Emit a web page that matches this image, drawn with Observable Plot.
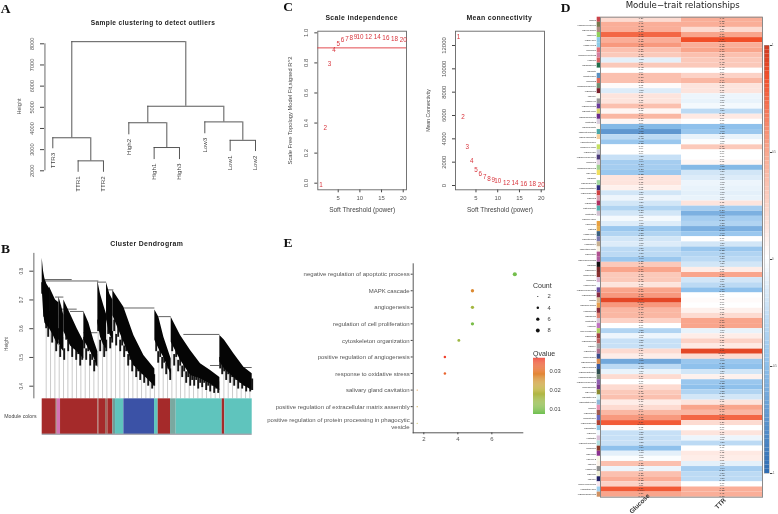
<!DOCTYPE html>
<html>
<head>
<meta charset="utf-8">
<script src="https://cdn.jsdelivr.net/npm/d3@7"></script>
<script src="https://cdn.jsdelivr.net/npm/@observablehq/plot@0.6"></script>
<style>
html,body{margin:0;padding:0;background:#fff;}
#page{position:relative;width:778px;height:514px;overflow:hidden;background:#fff;font-family:"Liberation Sans",Arial,sans-serif;filter:blur(.28px);}
#page svg{position:absolute;overflow:visible;}
.t{position:absolute;white-space:nowrap;transform:translate(-50%,-50%);line-height:1;}
.title{font-weight:bold;font-size:6.9px;letter-spacing:.35px;color:#222;}
.letter{font-family:"Liberation Serif",serif;font-weight:bold;font-size:13.5px;color:#111;}
.leg{transform:translate(0,-50%);font-size:7px;color:#333;}
</style>
</head>
<body>
<div id="page"></div>
<script>
// ---------- Panel A: sample clustering ----------
const sampleNames = ["TTR3","TTR1","TTR2","High2","High1","High3","Low3","Low1","Low2"];
const sampleEnds  = [3040,1930,1930,3700,2530,2530,3750,2910,2910];
const sampleMergeLeft  = [2,5,8,1,4,7,4.75,1.75];
const sampleMergeRight = [3,6,9,2.5,5.5,8.5,7.75,6.25];
const sampleMergeHeight= [2470,3100,3440,3560,4270,4310,5050,8100];
const sampleLeftFrom   = [1930,2530,2910,3040,3700,3750,4270,3560];
const sampleRightFrom  = [1930,2530,2910,2470,3100,3440,4310,5050];
const sampleTicks = [2000,3000,4000,5000,6000,7000,8000];

// ---------- Panel B: gene dendrogram ----------
const wedgeX = [
 [0,4,8,14,22],[22,32,40,50],[50,58,65],[65,85,105,125],[125,140,155,167],
 [167,175,185,193],[193,203,212],[212,245,275,305,338],[338,350,365,387],
 [387,415,445,475,505,533],[533,547,575,605,630]];
const wedgeTop = [
 [.845,.80,.775,.755,.74],[.745,.72,.70,.69],[.71,.68,.646],[.70,.65,.60,.555],[.66,.62,.56,.52],
 [.765,.72,.68,.65],[.76,.72,.70],[.733,.675,.576,.507,.46],[.665,.64,.57,.495],
 [.64,.576,.524,.478,.455,.43],[.576,.56,.513,.466,.443]];
const wedgeBottom = [
 [.74,.66,.62,.61,.60],[.60,.58,.56,.54],[.55,.53,.52],[.59,.54,.52,.495],[.56,.53,.50,.465],
 [.62,.57,.54,.53],[.63,.58,.56],[.645,.553,.472,.437,.40],[.56,.53,.50,.44],
 [.553,.49,.437,.426,.408,.385],[.484,.46,.43,.402,.385]];
const fringeBottom = [.72,.64,.60,.57,.62,.55,.58,.52,.56,.50,.53,.49,.56,.52,.55,.50,.53,.49,.51,.47,.49,.53,.49,.52,.47,.49,.45,.47,.59,.52,.56,.50,.52,.58,.53,.55,.59,.54,.57,.52,.54,.50,.52,.47,.49,.45,.47,.43,.45,.42,.44,.41,.43,.40,.42,.39,.40,.52,.48,.50,.46,.48,.44,.46,.42,.52,.47,.50,.45,.47,.43,.45,.41,.43,.40,.42,.40,.42,.39,.41,.395,.41,.385,.40,.38,.40,.375,.39,.375,.46,.44,.45,.42,.44,.41,.43,.40,.42,.39,.41,.39,.40,.38,.395,.38,.385];
const branchX1 = [10,10,167,193,40,55,85,125,245,350,425,505,605];
const branchX2 = [170,90,193,215,65,105,125,167,338,387,533,533,630];
const branchY  = [.766,.771,.762,.735,.71,.668,.66,.586,.672,.642,.58,.472,.465];
const stemX   = [12,25,38,51,64,77,90,103,116,129,142,155,168,181,194,207,220,233,246,259,272,285,298,311,324,337,350,363,376,389,402,415,428,441,454,467,480,493,506,519,532,545,558,571,584,597,610,623];
const stemTop = [.62,.60,.57,.55,.52,.56,.54,.52,.50,.55,.52,.50,.62,.55,.62,.57,.62,.57,.55,.51,.47,.45,.44,.43,.42,.40,.53,.50,.47,.55,.52,.49,.46,.44,.43,.42,.42,.41,.41,.40,.39,.46,.45,.43,.42,.41,.40,.39];
const moduleStart = [0,40,45,55,167,170,190,197,212,220,245,337,348,385,402,540,548];
const moduleEnd   = [40,45,55,167,170,190,197,212,220,245,337,348,385,402,540,548,630];
const moduleColor = ["#a52a2a","#a06a60","#d573b5","#a52a2a","#a06a60","#a52a2a","#a06a60","#a52a2a","#6f9e98","#5fc4bd","#3b52a6","#5fc4bd","#a52a2a","#7aa8a0","#5fc4bd","#a52a2a","#5fc4bd"];

// ---------- Panel C: soft threshold ----------
const powers = [1,2,3,4,5,6,7,8,9,10,12,14,16,18,20];
const scaleFit = [-.01,.37,.796,.887,.929,.953,.962,.969,.973,.973,.971,.971,.965,.958,.953];
const meanConn = [12714,5914,3314,2086,1371,1000,771,571,457,371,257,200,170,114,86];

// ---------- Panel D: module-trait heatmap ----------
const moduleNames = ["MEred","MEdarkolivegreen","MErosybrown","MEgreen","MEskyblue","MEskyblue3","MEcoral1","MEpalevioletred3","MEcoral","MEdarkgreen","MEwhite","MEsteelblue","MEcoral2","MEdarkseagreen4","MEdarkred","MEivory","MEgrey60","MEdarkorchid","MElightyellow","MEdarkmagenta","MEthistle2","MEfloralwhite","MEdarkturquoise","MEnavajowhite2","MEwhitesmoke","MEgreenyellow","MElavender","MEmediumpurple4","MEplum3","MEdarkseagreen3","MEyellow","MEsnow","MEpalegreen3","MEmidnightblue","MEorangered3","MEpink3","MEmaroon","MEturquoise","MEthistle1","MEhoneydew","MEorange","MEtan3","MEskyblue4","MEslateblue1","MEbisque4","MEantiquewhite","MEorchid4","MEmediumorchid","MEblack","MEbrown4","MEfirebrick4","MEplum1","MEaliceblue","MEmediumpurple3","MEindianred4","MEtan","MEsandybrown","MEdarkred2","MEsalmon","MEthistle3","MEplum","MEyellowgreen","MEbrown2","MEindianred3","MEgrey","MEhotpink4","MEroyalblue","MEdarkorange","MEroyalblue3","MEdarkslategrey","MEdarkseagreen","MEmediumpurple2","MEmagenta4","MEyellow4","MElightcyan1","MElightsteelblue","MEpink","MEsalmon4","MEslateblue","MEorangered4","MElightblue","MEazure","MEthistle","MEpaleturquoise","MEbrown","MEpurple","MEivory2","MElinen","MEgrey50","MEbeige","MEnavy","MElavenderblush","MElightskyblue","MEdarkgoldenrod"];
const moduleStrip = ["#c9444a","#75784c","#b08a80","#8fd05a","#8ecae6","#8ecae6","#e0707a","#d47fa0","#d95f5f","#1f6e4a","#ffffff","#5a8fc0","#e06a5a","#6f8f70","#7a1f2a","#fbfbf0","#999999","#6a3a9a","#dcd66a","#6a2a8a","#d8ccdc","#fdf8f0","#4aa8a8","#f5cfa0","#ffffff","#c5e060","#c8c8d8","#4a3a7a","#e0d0e0","#a0d090","#f0e060","#ffffff","#a0d8a0","#303080","#d04040","#d9a0b0","#b03060","#50b0b0","#d0c0d0","#fbfffb","#e8a040","#e8b050","#3a6080","#7a7ab0","#c8b090","#f8f0e0","#b05090","#b060a0","#111111","#7a2a2a","#883030","#d8b0d0","#f4f8ff","#6a50a0","#8a2a40","#d8b890","#e8a050","#8a2a3a","#e08070","#d8c8d8","#c070c0","#b0d060","#a04040","#c06060","#a0a0a0","#b07090","#3a4a8a","#e09050","#3a5aa0","#2f4f4f","#7a8a7a","#9060b0","#7a3a8a","#8a8a30","#d8f0f0","#90b8d8","#e890b0","#a05a50","#6a6ac0","#b04030","#90c8e8","#f0f8ff","#d8c0d8","#b0e0e0","#8a3a2a","#8a3090","#f8f8e8","#faf0e6","#909090","#f0f0d8","#222266","#f8e8f0","#a0d0f0","#d09060"];
const glucose = [.2,.45,.45,.75,.45,.55,.35,.3,-.12,.3,0,.35,.35,.02,-.15,.15,.15,.35,.05,.4,.05,-.55,-.75,-.3,-.45,0,0,-.25,-.4,-.4,-.45,.15,.15,.08,-.2,-.08,-.2,-.35,-.2,-.05,-.15,-.45,-.35,-.2,-.15,-.3,-.3,-.45,.3,.5,.3,.3,.15,.5,.55,.9,.55,.4,.4,.25,0,-.35,-.08,-.25,-.25,.2,.1,-.65,-.3,-.1,.2,0,.2,.3,.35,.1,.2,.4,.55,.8,.02,-.25,-.25,-.25,-.5,-.12,-.02,.35,-.08,.35,.45,.25,.8,.5];
const ttr = [.45,.45,.2,.5,.85,.45,.5,.35,.3,.3,0,.25,.4,.15,.15,-.08,-.1,-.05,-.3,.12,0,-.5,-.45,-.1,-.02,.3,0,0,.05,-.55,-.2,-.15,-.08,-.1,-.12,-.1,.15,-.4,-.6,-.4,-.35,-.6,-.45,0,-.2,-.45,-.35,-.3,-.2,.1,.5,-.2,-.3,-.5,0,.02,0,.08,.2,.5,.5,-.1,.1,.25,.12,.9,.2,-.45,-.5,-.2,.08,-.45,-.5,-.35,-.2,.15,.5,.4,.75,.2,0,.15,-.08,-.3,0,.12,.1,-.12,-.4,-.3,-.3,0,.45,.45];
const traits = ["Glucose","TTR"];
const rLookup = [.05,.1,.15,.2,.25,.3,.35,.4,.45,.5,.55,.6,.65,.75,.8,.85,.9,1];
const pLookup = [.9,.8,.7,.6,.5,.43,.36,.29,.22,.17,.13,.09,.06,.02,.009,.004,.001,.001];
const heatBreaks = [-1,-.5,0,.5,.85,1];
const heatColors = ["#2f6db3","#8fc1ec","#ffffff","#f9a58c","#f14e28","#c93a22"];

// ---------- Panel E: enrichment dots ----------
const terms = ["negative regulation of apoptotic process","MAPK cascade","angiogenesis","regulation of cell proliferation","cytoskeleton organization","positive regulation of angiogenesis","response to oxidative stress","salivary gland cavitation","positive regulation of extracellular matrix assembly","positive regulation of protein processing in phagocytic\nvesicle"];
const termX = [7.35,4.86,4.86,4.86,4.06,3.24,3.24,1.61,1.61,1.61];
const termCount = [9,6,6,6,5,4,4,2,2,2];
const termQ = [.0085,.027,.016,.0095,.015,.036,.032,.027,.023,.02];
const countLegend = [2,4,6,8];
const qBreaks = [.0074,.02,.029,.0368];
const qColors = ["#6cbf4c","#bdb23b","#e57f30","#f0392b"];

// ---------- helpers ----------
const page = document.getElementById("page");
const sans = '"Liberation Sans",Arial,sans-serif';
function put(chart,left,top){chart.style.left=left+"px";chart.style.top=top+"px";page.appendChild(chart);}
function label(text,x,y,cls,extra){const d=document.createElement("div");d.className="t "+cls;d.textContent=text;d.style.left=x+"px";d.style.top=y+"px";if(extra)Object.assign(d.style,extra);page.appendChild(d);}
const baseStyle = (size)=>({background:"transparent",fontFamily:sans,fontSize:size+"px",overflow:"visible",color:"#444"});
const rAxis = {tickRotate:-90,tickSize:4,tickPadding:6.5,labelAnchor:"center",labelArrow:"none"};

// ---------- Panel A ----------
{
 const merges = sampleMergeHeight.map((h,i)=>({a:sampleMergeLeft[i],b:sampleMergeRight[i],h,af:sampleLeftFrom[i],bf:sampleRightFrom[i]}));
 const leaves = sampleNames.map((name,i)=>({i:i+1,name,end:sampleEnds[i]}));
 put(Plot.plot({width:280,height:170,marginLeft:44,marginRight:10,marginTop:9,marginBottom:27,
  style:baseStyle(5.6),
  x:{domain:[1,9],range:[52.3,255],axis:null},
  y:{domain:[2000,8000],range:[140.3,13.3]},
  marks:[
   Plot.axisY({...rAxis,ticks:sampleTicks,label:"Height",labelOffset:27,tickFormat:d=>String(d),fill:"#555"}),
   Plot.ruleX([0],{x:()=>0.69,y1:2000,y2:8000,stroke:"#444",strokeWidth:.8}),
   Plot.ruleY(merges,{x1:"a",x2:"b",y:"h",stroke:"#444",strokeWidth:.9}),
   Plot.ruleX(merges,{x:"a",y1:"af",y2:"h",stroke:"#444",strokeWidth:.9}),
   Plot.ruleX(merges,{x:"b",y1:"bf",y2:"h",stroke:"#444",strokeWidth:.9}),
   Plot.text(leaves,{x:"i",y:"end",text:"name",rotate:-90,textAnchor:"end",dy:4,fill:"#444",fontSize:6.2})
  ]}),0,30);
 label("Sample clustering to detect outliers",153,23,"title",{fontSize:"6.6px"});
 label("A",5.5,9,"letter");
}

// ---------- Panel B ----------
{
 const wedges = wedgeX.flatMap((xs,w)=>xs.map((x,i)=>({w,x,top:wedgeTop[w][i],bot:wedgeBottom[w][i]})));
 const branches = branchY.map((y,i)=>({x1:branchX1[i],x2:branchX2[i],y}));
 const stems = stemX.map((x,i)=>({x,top:stemTop[i]}));
 const modules = moduleColor.map((fill,i)=>({x1:moduleStart[i],x2:moduleEnd[i],fill}));
 const fringe = fringeBottom.map((b,i)=>({x:i*6,b}));
 put(Plot.plot({width:270,height:190,marginLeft:33.3,marginRight:18,marginTop:3,marginBottom:6,
  style:baseStyle(4.8),
  x:{domain:[0,630],range:[41.7,251.7],axis:null},
  y:{domain:[.86,.233],range:[3.45,183.7]},
  marks:[
   Plot.axisY({...rAxis,ticks:[.4,.5,.6,.7,.8],label:"Height",labelOffset:29,tickFormat:d=>d.toFixed(1),fill:"#555"}),
   Plot.ruleX([-25],{y1:.356,y2:.862,stroke:"#444",strokeWidth:.8}),
   Plot.ruleX(stems,{x:"x",y1:.356,y2:"top",stroke:"#aaa",strokeWidth:.6}),
   Plot.ruleY(branches,{x1:"x1",x2:"x2",y:"y",stroke:"#222",strokeWidth:.7}),
   Plot.ruleX(fringe,{x:"x",y1:"b",y2:d=>d.b+.04,stroke:"#151515",strokeWidth:1.9}),
   Plot.areaY(wedges,{x:"x",y1:"bot",y2:"top",z:"w",fill:"#050505"}),
   Plot.rect(modules,{x1:"x1",x2:"x2",y1:.356,y2:.233,fill:"fill"}),
   Plot.ruleY([.233],{x1:0,x2:630,stroke:"#334",strokeWidth:.6}),
   Plot.text(["Module colors"],{x:-17,y:.295,text:d=>d,textAnchor:"end",fontSize:5.2,fill:"#444"})
  ]}),0,250);
 label("Cluster Dendrogram",146.7,244.3,"title");
 label("B",5.5,249,"letter");
}

// ---------- Panel C ----------
function softPlot(values,yDomain,yTicks,yLabel,yLabelSize,left,ml,mr,extra,fmt){
 const pts = powers.map((p,i)=>({p,v:values[i]}));
 put(Plot.plot({width:135,height:200,marginLeft:ml,marginRight:mr,marginTop:10.7,marginBottom:30.7,
  style:baseStyle(5.9),
  x:{domain:[.29,20.76]},y:{domain:yDomain},
  marks:[
   Plot.axisX({ticks:[5,10,15,20],tickSize:3,tickPadding:3,label:null,fill:"#555"}),
   Plot.axisY({...rAxis,tickSize:3,ticks:yTicks,label:null,tickFormat:fmt,fill:"#555"}),
   Plot.text([yLabel],{text:d=>d,frameAnchor:"left",textAnchor:"middle",rotate:-90,dx:-27.2,fontSize:yLabelSize,fill:"#444"}),
   Plot.text(["Soft Threshold (power)"],{text:d=>d,frameAnchor:"bottom",dy:21.7,fontSize:6.5,fill:"#444"}),
   Plot.frame({stroke:"#666",strokeWidth:.9}),
   ...extra,
   Plot.text(pts,{x:"p",y:"v",text:d=>String(d.p),fill:"#d8343c",fontSize:6.3})
  ]}),left,20);
}
softPlot(scaleFit,[-.044,1.011],[0,.2,.4,.6,.8,1],"Scale Free Topology Model Fit,signed R^2",5.75,275,42.3,4,[Plot.ruleY([.9],{stroke:"#e0353b",strokeWidth:.9})],d=>d.toFixed(1));
softPlot(meanConn,[-368,13225],[0,2000,4000,6000,8000,10000,12000],"Mean Connectivity",5.2,415,40,6,[],d=>String(d));
label("Scale independence",361.7,18.3,"title");
label("Mean connectivity",499.3,18.3,"title");
label("C",288,7,"letter");

// ---------- Panel D ----------
{
 const rowIds = moduleNames;
 const pOf = r=>pLookup[Math.min(d3.bisectLeft(rLookup,Math.abs(r)),rLookup.length-1)];
 const cells = moduleNames.flatMap((m,i)=>[{m,t:traits[0],r:glucose[i]},{m,t:traits[1],r:ttr[i]}]);
 const heatScale = {type:"linear",domain:heatBreaks,range:heatColors,interpolate:"rgb"};
 put(Plot.plot({width:50,height:514,marginLeft:46.7,marginRight:0,marginTop:16.7,marginBottom:17.3,
  style:baseStyle(2.3),
  x:{domain:["s"],axis:null,padding:0,round:false},
  y:{domain:rowIds,padding:0,round:false},
  marks:[
   Plot.axisY({tickSize:0,tickPadding:1.2,label:null,fill:"#333"}),
   Plot.cell(moduleNames.map((m,i)=>({m,fill:moduleStrip[i]})),{x:()=>"s",y:"m",fill:"fill"})
  ]}),550,0);
 put(Plot.plot({width:162,height:514,marginLeft:0,marginRight:0,marginTop:16.7,marginBottom:17.3,
  style:baseStyle(2.3),
  x:{domain:traits,padding:0,axis:null,round:false},
  y:{domain:rowIds,padding:0,axis:null,round:false},
  color:heatScale,
  marks:[
   Plot.cell(cells,{x:"t",y:"m",fill:"r"}),
   Plot.text(cells,{x:"t",y:"m",text:d=>d.r.toFixed(2),dy:-1.2,fontSize:2.3,fill:"#333"}),
   Plot.text(cells,{x:"t",y:"m",text:d=>"("+pOf(d.r)+")",dy:1.2,fontSize:2.3,fill:"#333"}),
   Plot.frame({stroke:"#8a8a8a",strokeWidth:1}),
   Plot.text(traits,{x:d=>d,text:d=>d,frameAnchor:"bottom",rotate:-45,dy:8,fontSize:6.4,fontWeight:"bold",fill:"#333"})
  ]}),600,0);
 const barSteps = d3.range(-1,1,.02);
 put(Plot.plot({width:14,height:440,marginLeft:1,marginRight:8,marginTop:5,marginBottom:7,
  style:baseStyle(2.6),
  x:{domain:[0,1],axis:null},
  y:{domain:[-1,1]},
  color:heatScale,
  marks:[
   Plot.rect(barSteps,{x1:0,x2:1,y1:d=>d,y2:d=>d+.02,fill:d=>d}),
   Plot.frame({stroke:"#999",strokeWidth:.5}),
   Plot.axisY({anchor:"right",ticks:[-1,-.5,0,.5,1],tickSize:2,tickPadding:.6,label:null,tickFormat:d=>String(d),fill:"#444"})
  ]}),763,40);
 label("Module\u2212trait relationships",682.7,5,"",{fontFamily:'"DejaVu Sans",sans-serif',fontSize:"8.6px",color:"#222"});
 label("D",565.5,8,"letter");
}

// ---------- Panel E ----------
{
 const rows = terms.map((term,i)=>({term,x:termX[i],count:termCount[i],q:termQ[i]}));
 const rScale = {type:"linear",domain:[2,4,6,9],range:[.55,1.25,1.65,2.05]};
 const qScale = {type:"linear",domain:qBreaks,range:qColors,interpolate:"rgb"};
 put(Plot.plot({width:265,height:190,marginLeft:152.7,marginRight:2.7,marginTop:8.3,marginBottom:12.7,
  style:baseStyle(6),
  x:{domain:[1.376,7.82]},
  y:{type:"point",domain:terms,range:[18.7,167.7],padding:0,round:false},
  r:rScale,color:qScale,
  marks:[
   Plot.frame({anchor:"left",stroke:"#444",strokeWidth:.9}),
   Plot.frame({anchor:"bottom",stroke:"#444",strokeWidth:.9}),
   Plot.axisY({tickSize:2,tickPadding:1.5,label:null,fill:"#555",lineHeight:1.1}),
   Plot.axisX({ticks:[2,4,6],tickSize:2,tickPadding:1.5,label:null,tickFormat:d=>String(d),fill:"#555"}),
   Plot.dot(rows,{x:"x",y:"term",r:"count",fill:"q",stroke:"none"})
  ]}),260,255);
 put(Plot.plot({width:30,height:45,marginLeft:0,marginRight:0,marginTop:0,marginBottom:0,
  style:baseStyle(5.8),
  x:{axis:null,domain:[0,1]},
  y:{type:"point",domain:countLegend,range:[6,40],axis:null,padding:0,round:false},
  r:rScale,
  marks:[
   Plot.dot(countLegend,{y:d=>d,r:d=>d,fill:"#111",stroke:"none",frameAnchor:"left",dx:4.3}),
   Plot.text(countLegend,{y:d=>d,text:d=>String(d),frameAnchor:"left",dx:14,textAnchor:"start",fill:"#444"})
  ]}),533,290);
 const qSteps = d3.range(.0074,.0368,.0005);
 put(Plot.plot({width:30,height:66,marginLeft:0,marginRight:18,marginTop:2,marginBottom:8,
  style:baseStyle(5.8),
  x:{domain:[0,1],axis:null},
  y:{domain:[.0074,.0368]},
  color:qScale,
  marks:[
   Plot.rect(qSteps,{x1:0,x2:1,y1:d=>d,y2:d=>d+.0005,fill:d=>d}),
   Plot.axisY({anchor:"right",ticks:[.01,.02,.03],tickSize:0,tickPadding:4,label:null,tickFormat:d=>d.toFixed(2),fill:"#444"})
  ]}),533,356);
 label("Count",533,285,"leg");
 label("Qvalue",533,352.5,"leg");
 label("E",288,242.7,"letter");
}
</script>
</body>
</html>
